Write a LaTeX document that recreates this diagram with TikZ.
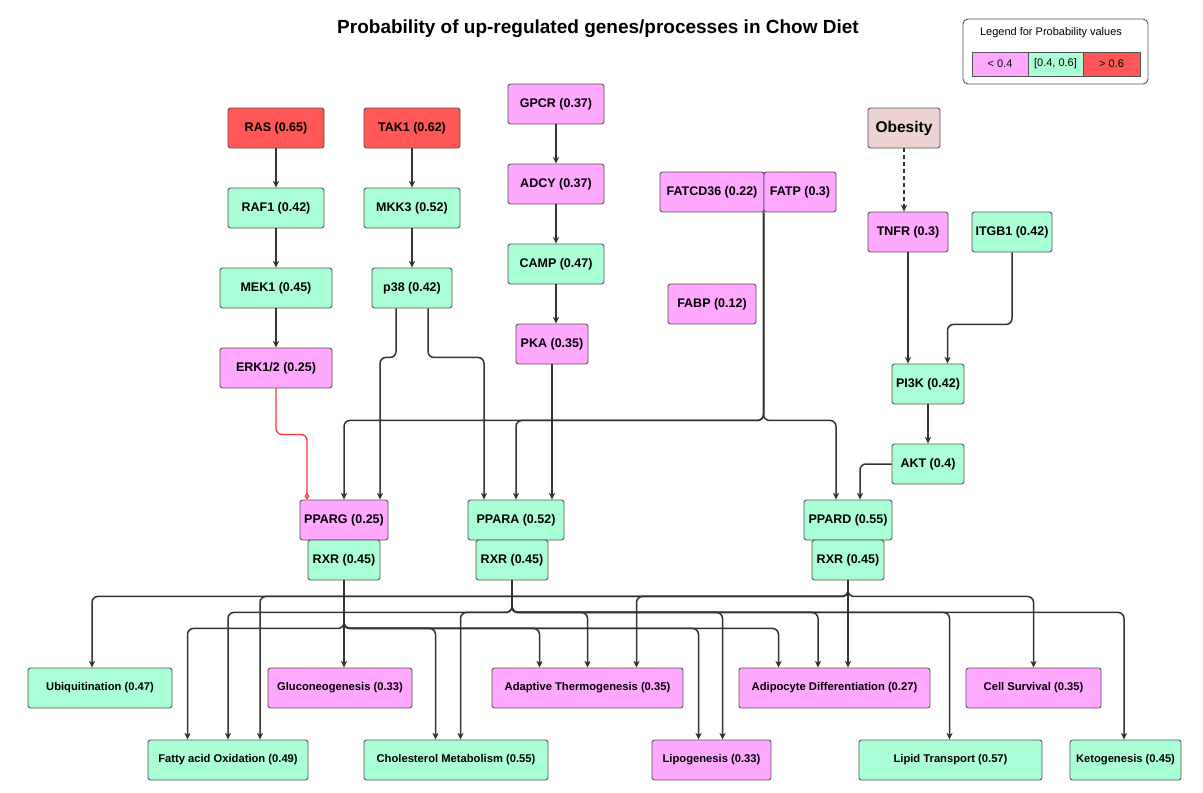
\documentclass[tikz,border=0pt]{standalone}
\usepackage{fontspec}
\setmainfont{Liberation Sans}
\usetikzlibrary{arrows.meta}
\definecolor{cpink}{HTML}{FFA8FF}
\definecolor{cgreen}{HTML}{AAFFD6}
\definecolor{cred}{HTML}{FF5757}
\definecolor{cobes}{HTML}{EED3D3}
\definecolor{cborder}{HTML}{555555}
\definecolor{cedge}{HTML}{333333}
\definecolor{credge}{HTML}{FF3333}
\begin{document}
\begin{tikzpicture}[x=1pt,y=-1pt,
  wd/.style={minimum width=#1pt},
  box/.style={draw=cborder, line width=0.9pt, rounded corners=2.5pt, minimum height=40pt, inner sep=0pt, font=\fontsize{12.5}{14}\selectfont\bfseries, text=black},
  pk/.style={box, fill=cpink},
  gr/.style={box, fill=cgreen},
  rd/.style={box, fill=cred},
  sbox/.style={font=\fontsize{11.2}{13}\selectfont\bfseries},
  lg/.style={draw=cborder, line width=0.9pt, minimum height=24pt, inner sep=0pt, font=\fontsize{11}{13}\selectfont},
  e/.style={draw=cedge, line width=1.5pt, rounded corners=6pt, -{Stealth[length=6.5pt,width=6pt,inset=1.5pt]}},
  redge/.style={draw=credge, line width=1.3pt, rounded corners=6pt, -{Diamond[open,length=7pt,width=5pt]}},
]
\fill[white] (0,0) rectangle (1203,793);
\useasboundingbox (0,0) rectangle (1203,793);

% title
\node[font=\fontsize{19}{22}\selectfont\bfseries] (title) at (598,29) {Probability of up-regulated genes/processes in Chow Diet};

% legend
\node[draw=cborder, line width=0.9pt, rounded corners=5pt, minimum width=185pt, minimum height=65pt, fill=white] (legend) at (1055.5,51.5) {};
\node[font=\fontsize{11}{13}\selectfont] (legt) at (1051,33) {Legend for Probability values};
\node[lg, fill=cpink, wd=56] (l1) at (1000,64) {< 0.4};
\node[lg, fill=cgreen, wd=55] (l2) at (1055.5,64) {[0.4, 0.6]};
\node[lg, fill=cred, wd=57] (l3) at (1111.5,64) {> 0.6};

% upper nodes
\node[rd, wd=96] (ras) at (276,128) {RAS (0.65)};
\node[rd, wd=96] (tak1) at (412,128) {TAK1 (0.62)};
\node[gr, wd=96] (raf1) at (276,208) {RAF1 (0.42)};
\node[gr, wd=96] (mkk3) at (412,208) {MKK3 (0.52)};
\node[gr, wd=112] (mek1) at (276,288) {MEK1 (0.45)};
\node[gr, wd=80] (p38) at (412,288) {p38 (0.42)};
\node[pk, wd=112] (erk) at (276,368) {ERK1/2 (0.25)};
\node[pk, wd=96] (gpcr) at (556,104) {GPCR (0.37)};
\node[pk, wd=96] (adcy) at (556,184) {ADCY (0.37)};
\node[gr, wd=96] (camp) at (556,264) {CAMP (0.47)};
\node[pk, wd=72] (pka) at (552,344) {PKA (0.35)};
\node[pk, wd=104] (fatcd) at (712,192) {FATCD36 (0.22)};
\node[pk, wd=72] (fatp) at (800,192) {FATP (0.3)};
\node[pk, wd=88] (fabp) at (712,304) {FABP (0.12)};
\node[box, fill=cobes, wd=72, font=\fontsize{15.5}{17}\selectfont\bfseries] (obes) at (904,128) {Obesity};
\node[pk, wd=80] (tnfr) at (908,232) {TNFR (0.3)};
\node[gr, wd=80] (itgb1) at (1012,232) {ITGB1 (0.42)};
\node[gr, wd=72] (pi3k) at (928,384) {PI3K (0.42)};
\node[gr, wd=72] (akt) at (928,464) {AKT (0.4)};
\node[pk, wd=88] (pparg) at (344,520) {PPARG (0.25)};
\node[gr, wd=72] (rxrg) at (344,560) {RXR (0.45)};
\node[gr, wd=96] (ppara) at (516,520) {PPARA (0.52)};
\node[gr, wd=72] (rxra) at (512,560) {RXR (0.45)};
\node[gr, wd=88] (ppard) at (848,520) {PPARD (0.55)};
\node[gr, wd=72] (rxrd) at (848,560) {RXR (0.45)};

% bottom nodes
\node[gr, sbox, wd=144] (ubiq) at (100,688) {Ubiquitination (0.47)};
\node[pk, sbox, wd=144] (gluc) at (340,688) {Gluconeogenesis (0.33)};
\node[pk, sbox, wd=191] (adapt) at (587.5,688) {Adaptive Thermogenesis (0.35)};
\node[pk, sbox, wd=191] (adipo) at (834.5,688) {Adipocyte Differentiation (0.27)};
\node[pk, sbox, wd=135] (cells) at (1033.5,688) {Cell Survival (0.35)};
\node[gr, sbox, wd=160] (fao) at (228,760) {Fatty acid Oxidation (0.49)};
\node[gr, sbox, wd=184] (chol) at (456,760) {Cholesterol Metabolism (0.55)};
\node[pk, sbox, wd=119] (lipo) at (711.5,760) {Lipogenesis (0.33)};
\node[gr, sbox, wd=183] (lipt) at (950.5,760) {Lipid Transport (0.57)};
\node[gr, sbox, wd=111] (keto) at (1125.5,760) {Ketogenesis (0.45)};

% upper edges
\draw[e] (ras) -- (raf1);
\draw[e] (raf1) -- (mek1);
\draw[e] (mek1) -- (erk);
\draw[e] (tak1) -- (mkk3);
\draw[e] (mkk3) -- (p38);
\draw[e] (gpcr) -- (adcy);
\draw[e] (adcy) -- (camp);
\draw[e] (camp.south) -- (camp.south |- pka.north);
\draw[e, dash pattern=on 4pt off 3pt] (obes.south) -- (obes.south |- tnfr.north);
\draw[e] (tnfr.south) -- (tnfr.south |- pi3k.north);
\draw[e] (itgb1.south) -- ++(0,72) -| ([xshift=19.5pt]pi3k.north);
\draw[e] (pi3k) -- (akt);
\draw[e] (akt.west) -| ([xshift=12pt]ppard.north);
\draw[redge] (erk.south) -- ++(0,46) -| ([xshift=-37pt]pparg.north);
\draw[e] ([xshift=-16pt]p38.south) -- ++(0,49) -| ([xshift=36pt]pparg.north);
\draw[e] ([xshift=16pt]p38.south) -- ++(0,49) -| ([xshift=-32pt]ppara.north);
\draw[e] (pka.south) -- (pka.south |- ppara.north);
\draw[e] (fatp.south west) -- ++(0,208) -| (pparg.north);
\draw[e] (fatp.south west) -- ++(0,208) -| (ppara.north);
\draw[e] (fatp.south west) -- ++(0,208) -| ([xshift=-12pt]ppard.north);

% bottom edges from RXR (PPARG)
\draw[e] (rxrg.south) -- (rxrg.south |- gluc.north);
\draw[e] (rxrg.south) -- ++(0,48) -| ([xshift=-40.5pt]fao.north);
\draw[e] (rxrg.south) -- ++(0,48) -| ([xshift=-20.5pt]chol.north);
\draw[e] (rxrg.south) -- ++(0,48) -| ([xshift=-48pt]adapt.north);
\draw[e] (rxrg.south) -- ++(0,48) -| ([xshift=-13pt]lipo.north);
\draw[e] (rxrg.south) -- ++(0,48) -| ([xshift=-56pt]adipo.north);
% from RXR (PPARA)
\draw[e] (rxra.south) -- ++(0,32) -| (fao.north);
\draw[e] (rxra.south) -- ++(0,32) -| ([xshift=4.5pt]chol.north);
\draw[e] (rxra.south) -- ++(0,32) -| (adapt.north);
\draw[e] (rxra.south) -- ++(0,32) -| ([xshift=11pt]lipo.north);
\draw[e] (rxra.south) -- ++(0,32) -| ([xshift=-16.5pt]adipo.north);
\draw[e] (rxra.south) -- ++(0,32) -| ([xshift=-1pt]lipt.north);
\draw[e] (rxra.south) -- ++(0,32) -| ([xshift=-1.5pt]keto.north);
% from RXR (PPARD)
\draw[e] (rxrd.south) -- ++(0,16) -| ([xshift=-8pt]ubiq.north);
\draw[e] (rxrd.south) -- ++(0,16) -| ([xshift=32pt]fao.north);
\draw[e] (rxrd.south) -- ++(0,16) -| ([xshift=49pt]adapt.north);
\draw[e] (rxrd.south) -- (rxrd.south |- adipo.north);
\draw[e] (rxrd.south) -- ++(0,16) -| (cells.north);
\end{tikzpicture}
\end{document}
